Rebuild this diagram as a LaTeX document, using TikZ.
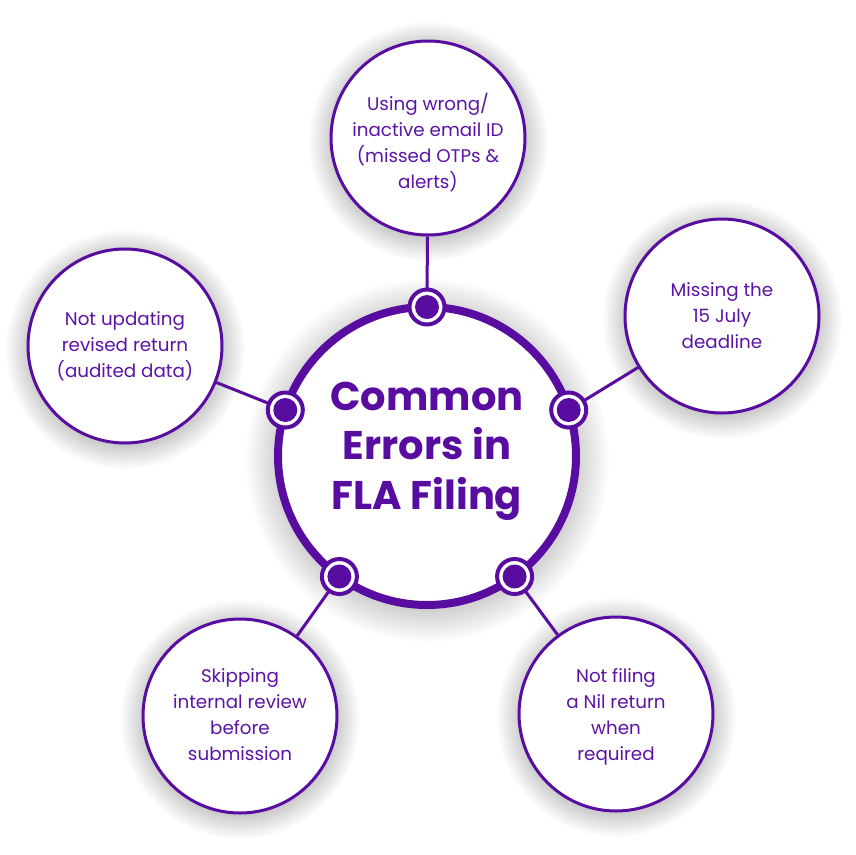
\documentclass[tikz,border=0pt]{standalone}
\usepackage{fontspec}
\setmainfont{Poppins}
\usetikzlibrary{fadings}
\definecolor{pur}{RGB}{88,12,160}
\definecolor{purtxt}{RGB}{92,20,164}
\begin{document}
\begin{tikzpicture}[x=1pt,y=-1pt,
  outer/.style={circle, draw=pur, line width=3pt, fill=white, minimum size=194pt, inner sep=0pt},
  otext/.style={align=center, text=purtxt, font=\fontsize{18.3}{26}\selectfont, inner sep=0pt},
  hub/.style={circle, draw=pur, line width=8pt, fill=white, minimum size=298pt, inner sep=0pt},
  title/.style={align=center, text=pur, font=\fontsize{40}{49.5}\selectfont\bfseries, inner sep=0pt},
  knot/.style={circle, draw=pur, line width=4pt, fill=white, minimum size=35pt, inner sep=0pt},
  dot/.style={circle, fill=pur, minimum size=24pt, inner sep=0pt},
  link/.style={draw=pur, line width=3pt},
  shadowc/.style={fill=black, opacity=0.2, path fading=circle with fuzzy edge 20 percent}
]
\useasboundingbox (0,0) rectangle (855,855);
% shadows
\fill[shadowc] (427,460) circle[radius=182pt];
\fill[shadowc] (428,141) circle[radius=120pt];
\fill[shadowc] (722,319) circle[radius=120pt];
\fill[shadowc] (125,349) circle[radius=120pt];
\fill[shadowc] (240,719) circle[radius=120pt];
\fill[shadowc] (616,717) circle[radius=120pt];
% hub
\node[hub] (main) at (427,456) {};
\node[title] (t) at (427,451) {Common\\Errors in\\FLA Filing};
% knot positions
\coordinate (p1) at (427,307);
\coordinate (p2) at (568.7,410);
\coordinate (p3) at (285.3,410);
\coordinate (p4) at (339.4,576.5);
\coordinate (p5) at (514.6,576.5);
% outer circles
\node[outer] (o1) at (428,138) {};
\node[outer] (o2) at (722,316) {};
\node[outer] (o3) at (125,346) {};
\node[outer] (o4) at (240,716) {};
\node[outer] (o5) at (616,714) {};
\node[otext] (x1) at (428,143) {Using wrong/\\inactive email ID\\(missed OTPs \&\\alerts)};
\node[otext] (x2) at (722,316) {Missing the\\15 July\\deadline};
\node[otext] (x3) at (125,346.5) {Not updating\\revised return\\(audited data)};
\node[otext] (x4) at (240,715) {Skipping\\internal review\\before\\submission};
\node[otext] (x5) at (616,717) {Not filing\\a Nil return\\when\\required};
% links
\draw[link] (p1) -- (o1);
\draw[link] (p2) -- (o2);
\draw[link] (p3) -- (o3);
\draw[link] (p4) -- (o4);
\draw[link] (p5) -- (o5);
% knots
\foreach \i in {1,...,5}{
  \node[knot] (k\i) at (p\i) {};
  \node[dot] (d\i) at (p\i) {};
}
\end{tikzpicture}
\end{document}
